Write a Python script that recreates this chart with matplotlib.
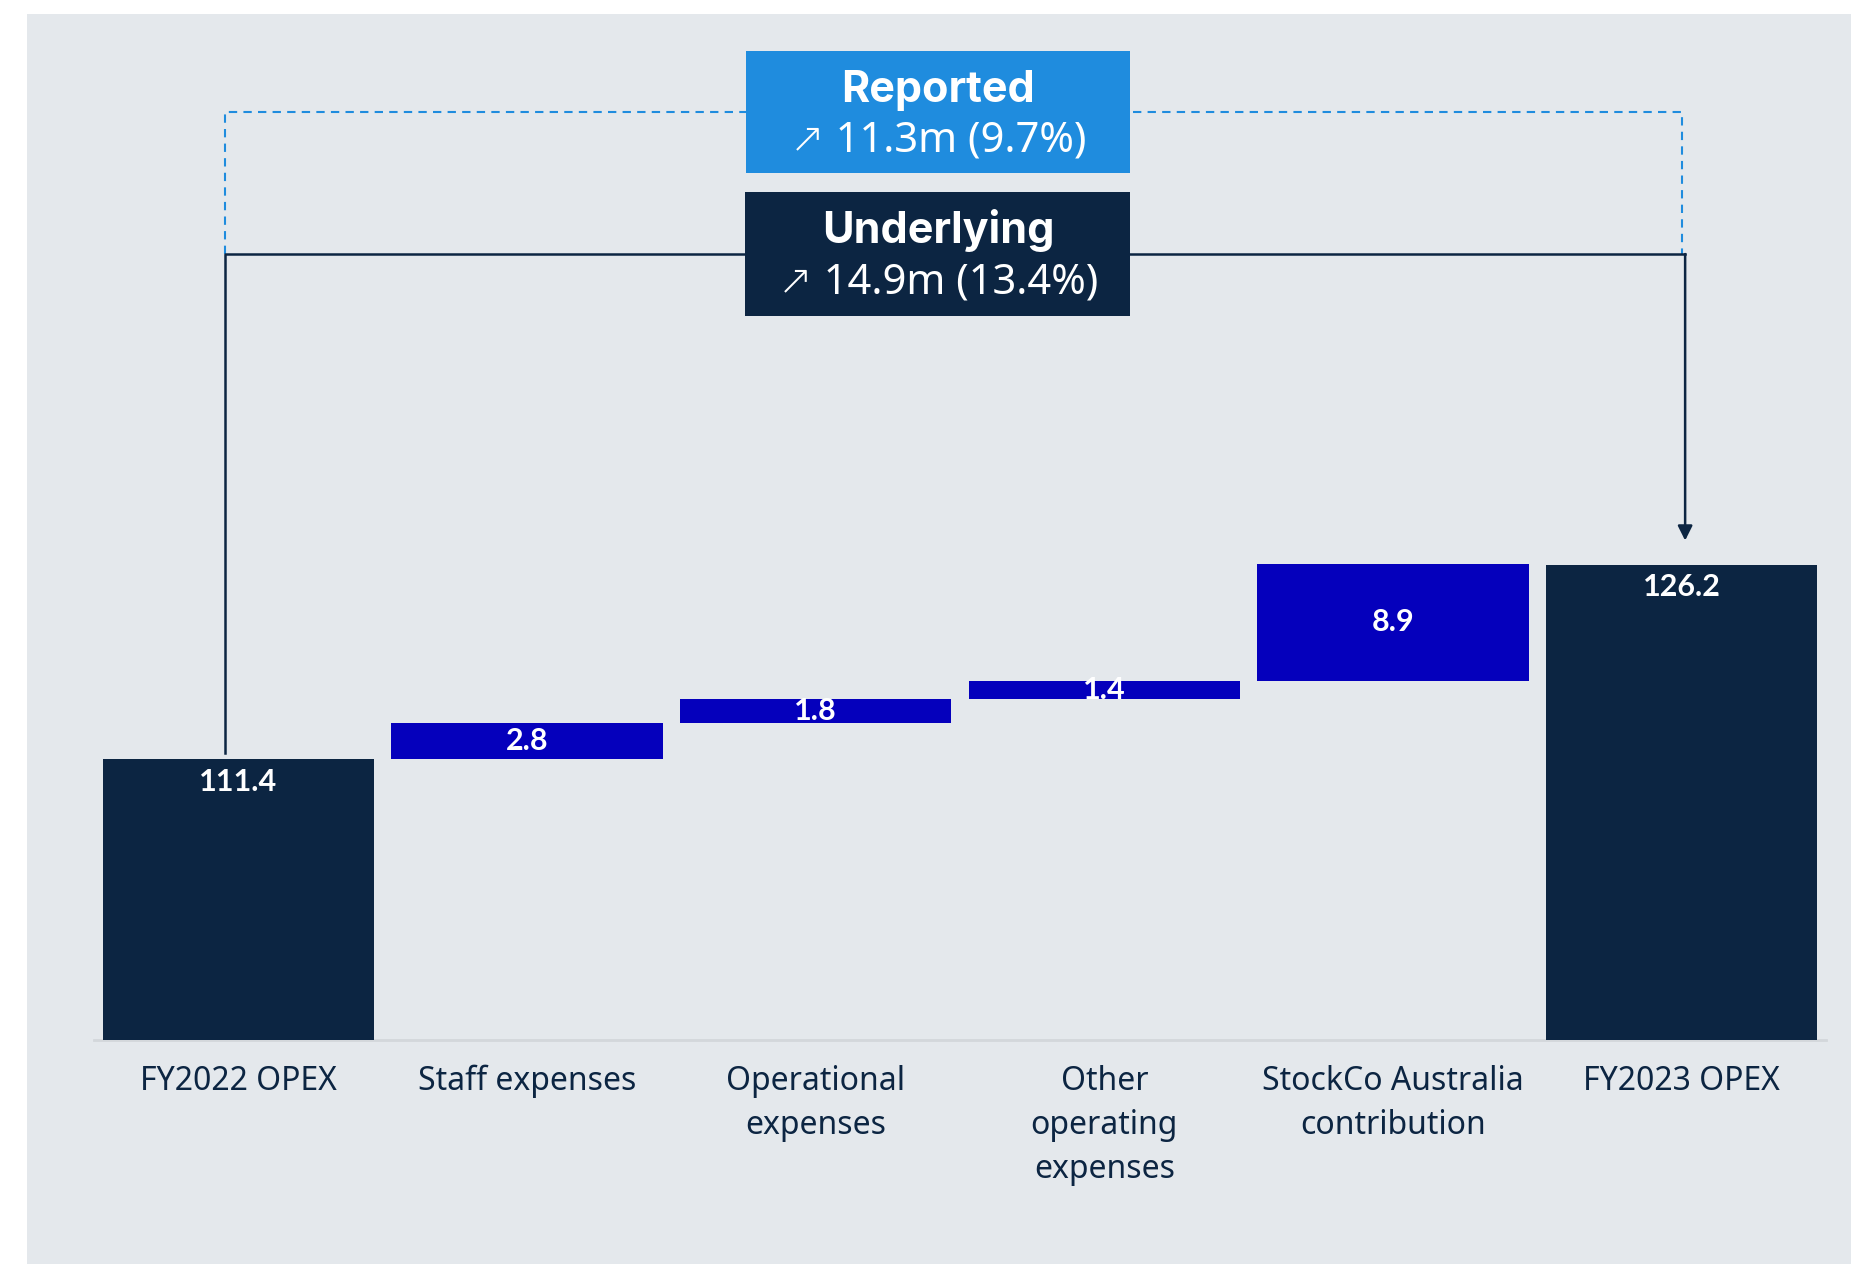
import matplotlib
matplotlib.use("Agg")
import matplotlib.pyplot as plt
from matplotlib.patches import Rectangle

# ---- data ----
categories = ["FY2022 OPEX", "Staff expenses", "Operational\nexpenses",
              "Other\noperating\nexpenses", "StockCo Australia\ncontribution", "FY2023 OPEX"]
start_value = 111.4
deltas = [2.8, 1.8, 1.4, 8.9]
end_value = 126.2
reported_label = ["Reported", "\u2197 11.3m (9.7%)"]
underlying_label = ["Underlying", "\u2197 14.9m (13.4%)"]

# ---- style ----
NAVY = "#0C2542"
BLUE = "#0500BC"
LIGHTBLUE = "#1F8CDE"
PANEL = "#E4E8EC"
W, H = 1851, 1264
FONT = ["Noto Sans", "DejaVu Sans"]
BOLDFONT = ["Inter", "DejaVu Sans"]

fig = plt.figure(figsize=(W / 100, H / 100), dpi=100)
fig.patch.set_facecolor("white")

def fx(px):
    return px / W

def fy(py):
    return 1 - py / H

# gray panel
fig.add_artist(Rectangle((fx(27), 0), 1 - fx(27), fy(14), transform=fig.transFigure,
                         facecolor=PANEL, edgecolor="none", zorder=0))

ax = fig.add_axes([fx(94), fy(1040), fx(1826) - fx(94), fy(14) - fy(1040)])
ax.set_facecolor("none")
ax.set_xlim(-0.5, 5.5)
ax.set_ylim(90, 90 + 1026 / 13.11)

x = list(range(len(categories)))
# totals
ax.bar(x[0], start_value, width=0.94, color=NAVY, zorder=3)
ax.bar(x[-1], end_value, width=0.94, color=NAVY, zorder=3)
# deltas
bottom = start_value
for i, d in enumerate(deltas):
    ax.bar(x[i + 1], d, bottom=bottom, width=0.94, color=BLUE, zorder=3)
    ax.text(x[i + 1], bottom + d / 2, f"{d:.1f}", ha="center", va="center",
            color="white", fontsize=22, fontweight="bold", family="Lato", zorder=5)
    bottom += d

ax.text(x[0], start_value - 1.75, f"{start_value:.1f}", ha="center", va="center",
        color="white", fontsize=22, fontweight="bold", family="Lato", zorder=5)
ax.text(x[-1], end_value - 1.68, f"{end_value:.1f}", ha="center", va="center",
        color="white", fontsize=22, fontweight="bold", family="Lato", zorder=5)

# axes styling
for s in ["top", "right", "left"]:
    ax.spines[s].set_visible(False)
ax.spines["bottom"].set_color("#D3D7DB")
ax.spines["bottom"].set_linewidth(2)
ax.spines["bottom"].set_zorder(2)
ax.set_yticks([])
ax.set_xticks(x)
ax.set_xticklabels(categories, fontsize=23, color=NAVY, family=FONT, linespacing=1.45)
ax.tick_params(axis="x", length=0, pad=18)

# connector lines
xl, xr = -0.045, 5.0
y_und = 149.95
y_rep = 160.79
ax.plot([xl, xl, xr, xr], [y_und, y_rep, y_rep, y_und], color=LIGHTBLUE, lw=1.5,
        ls=(0, (4, 3)), zorder=2, clip_on=False)
ax.plot([xl, xl, xr + 0.012], [start_value + 0.5, y_und, y_und], color=NAVY, lw=1.8,
        zorder=2, clip_on=False)
ax.annotate("", xy=(xr + 0.012, end_value + 1.9), xytext=(xr + 0.012, y_und),
            arrowprops=dict(arrowstyle="-|>", color=NAVY, lw=1.8, mutation_scale=22,
                            shrinkA=0, shrinkB=0), zorder=2)

# boxes
fig.add_artist(Rectangle((fx(746), fy(173)), fx(1130) - fx(746), fy(51) - fy(173),
                         transform=fig.transFigure, facecolor=LIGHTBLUE, edgecolor="none", zorder=4))
fig.add_artist(Rectangle((fx(745), fy(316)), fx(1130) - fx(745), fy(192) - fy(316),
                         transform=fig.transFigure, facecolor=NAVY, edgecolor="none", zorder=4))
cx = fx(938)
fig.text(cx, fy(102), reported_label[0], ha="center", va="baseline", color="white",
         fontsize=31, fontweight="bold", family=BOLDFONT, zorder=6)
fig.text(cx, fy(152), reported_label[1], ha="center", va="baseline", color="white",
         fontsize=30, fontweight="light", family=FONT, zorder=6)
fig.text(cx, fy(243), underlying_label[0], ha="center", va="baseline", color="white",
         fontsize=31, fontweight="bold", family=BOLDFONT, zorder=6)
fig.text(cx, fy(293), underlying_label[1], ha="center", va="baseline", color="white",
         fontsize=30, fontweight="light", family=FONT, zorder=6)

fig.savefig("out.png", dpi=100, facecolor="white")
